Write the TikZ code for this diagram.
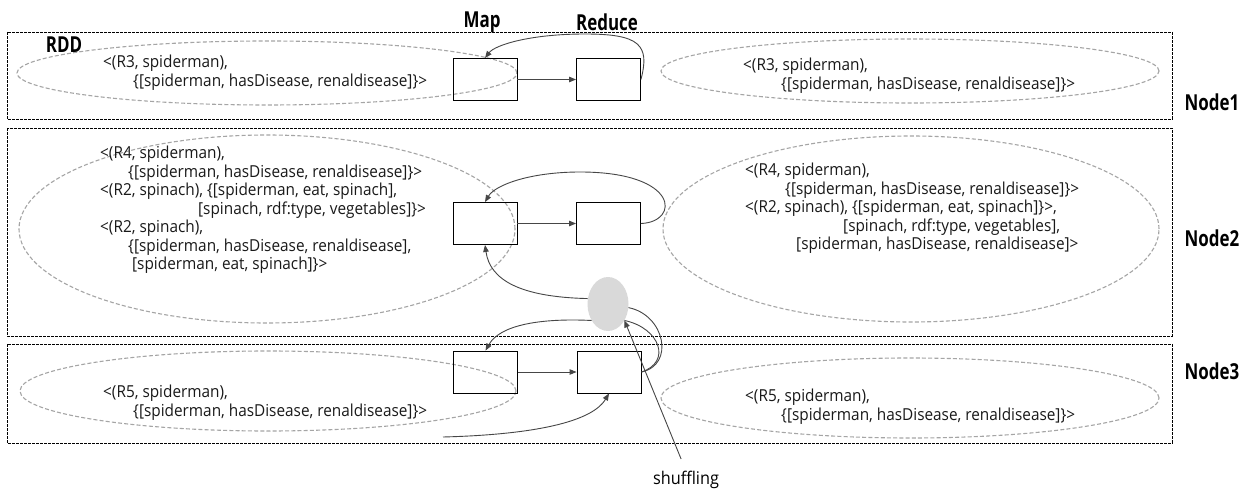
\documentclass[tikz,border=0pt]{standalone}
\usepackage{fontspec}
\setmainfont{Open Sans}[FakeStretch=0.93]
\newfontfamily\labelfont{Open Sans}[FakeStretch=0.77]
\usetikzlibrary{shapes.geometric,arrows.meta}

\definecolor{conn}{RGB}{70,70,70}
\definecolor{ovalgray}{RGB}{165,165,165}
\definecolor{shufgray}{RGB}{217,217,217}

\begin{document}
\begin{tikzpicture}[x=1pt,y=-1pt,
  partition/.style={draw=black, line width=0.9pt, dash pattern=on 2.6pt off 1.4pt},
  rdd/.style={ellipse, draw=ovalgray, line width=1.1pt, dash pattern=on 4pt off 2.2pt, inner sep=0pt},
  opbox/.style={rectangle, draw=black, line width=0.9pt, minimum width=64pt, minimum height=42pt, inner sep=0pt},
  flow/.style={draw=conn, line width=0.9pt, -{Triangle[length=7pt,width=5.5pt]}},
  plain/.style={draw=conn, line width=0.9pt},
  rec/.style={anchor=north west, inner sep=0pt, align=left, font=\fontsize{16.5}{18.5}\selectfont, text=black!90},
  tag/.style={font=\labelfont\bfseries\fontsize{22}{24}\selectfont, inner sep=0pt},
]
\useasboundingbox[fill=white] (0,0) rectangle (1252,494);

% cluster partitions
\draw[partition] (7,32) rectangle (1172,119);
\draw[partition] (7,128) rectangle (1172,336);
\draw[partition] (7,344) rectangle (1172,443);

% RDD partitions as dashed ovals
\node[rdd, minimum width=500pt, minimum height=64pt] (e1l) at (267,73) {};
\node[rdd, minimum width=498pt, minimum height=64pt] (e1r) at (910,71) {};
\node[rdd, minimum width=496pt, minimum height=188pt] (e2l) at (267,229) {};
\node[rdd, minimum width=496pt, minimum height=186pt] (e2r) at (911,229) {};
\node[rdd, minimum width=496pt, minimum height=80pt] (e3l) at (268,391) {};
\node[rdd, minimum width=498pt, minimum height=80pt] (e3r) at (910,398) {};

% records
\node[rec] (t1l) at (103,55) {<(R3, spiderman),\\\hspace*{30pt}\{[spiderman, hasDisease, renaldisease]\}>};
\node[rec] (t1r) at (743,58) {<(R3, spiderman),\\\hspace*{38pt}\{[spiderman, hasDisease, renaldisease]\}>};
\node[rec] (t2l) at (100,146) {<(R4, spiderman),\\
  \hspace*{28pt}\{[spiderman, hasDisease, renaldisease]\}>\\
  <(R2, spinach), \{[spiderman, eat, spinach],\\
  \hspace*{98pt}[spinach, rdf:type, vegetables]\}>\\
  <(R2, spinach),\\
  \hspace*{28pt}\{[spiderman, hasDisease, renaldisease],\\
  \hspace*{32pt}[spiderman, eat, spinach]\}>};
\node[rec] (t2r) at (745,163) {<(R4, spiderman),\\
  \hspace*{40pt}\{[spiderman, hasDisease, renaldisease]\}>\\
  <(R2, spinach), \{[spiderman, eat, spinach]\}>,\\
  \hspace*{98pt}[spinach, rdf:type, vegetables],\\
  \hspace*{51pt}[spiderman, hasDisease, renaldisease]>};
\node[rec] (t3l) at (103,385) {<(R5, spiderman),\\\hspace*{30pt}\{[spiderman, hasDisease, renaldisease]\}>};
\node[rec] (t3r) at (745,389) {<(R5, spiderman),\\\hspace*{36pt}\{[spiderman, hasDisease, renaldisease]\}>};

% labels
\node[tag] (rddlbl) at (64,45) {RDD};
\node[tag] (maplbl) at (482,22) {Map};
\node[tag] (redlbl) at (607,22) {Reduce};
\node[tag] (n1lbl) at (1212,102) {Node1};
\node[tag] (n2lbl) at (1212,238) {Node2};
\node[tag] (n3lbl) at (1212,371) {Node3};

% map and reduce stages
\node[opbox] (m1) at (485,79.5) {};
\node[opbox] (r1) at (608.5,79.5) {};
\node[opbox] (m2) at (485,223.5) {};
\node[opbox] (r2) at (608.5,223.5) {};
\node[opbox] (m3) at (485.5,372) {};
\node[opbox] (r3) at (609,372) {};

% shuffle hub and its caption
\node[ellipse, fill=shufgray, minimum width=41pt, minimum height=54pt, inner sep=0pt] (sh) at (608,304) {};
\node[font=\fontsize{17.5}{20}\selectfont, inner sep=0pt] (shuf) at (686,480) {shuffling};
\coordinate (feed) at (443,437);

% data flow
\draw[flow] (m1.east) -- (r1.west);
\draw[flow] (r1.east) .. controls (650,45) and (640,34) .. (585,34) .. controls (530,34) and (495,45) .. (m1.north);
\draw[flow] (m2.east) -- (r2.west);
\draw[flow] (r2.east) .. controls (680,222) and (680,172) .. (580,172) .. controls (530,172) and (495,185) .. (m2.north);
\draw[flow] (m3.east) -- (r3.west);
\draw[flow] (feed) .. controls (520,435) and (590,425) .. (r3.south);
\draw[flow] (sh.165) .. controls (520,297) and (490,280) .. (m2.south);
\draw[flow] (sh.225) .. controls (540,318) and (500,325) .. (m3.north);
\draw[plain] (sh.-10) .. controls (665,315) and (675,365) .. (r3.east);
\draw[plain] (sh.-45) .. controls (660,328) and (672,362) .. (r3.east);
\draw[flow, shorten <=13pt] (shuf.north) -- (sh.-45);
\end{tikzpicture}
\end{document}
